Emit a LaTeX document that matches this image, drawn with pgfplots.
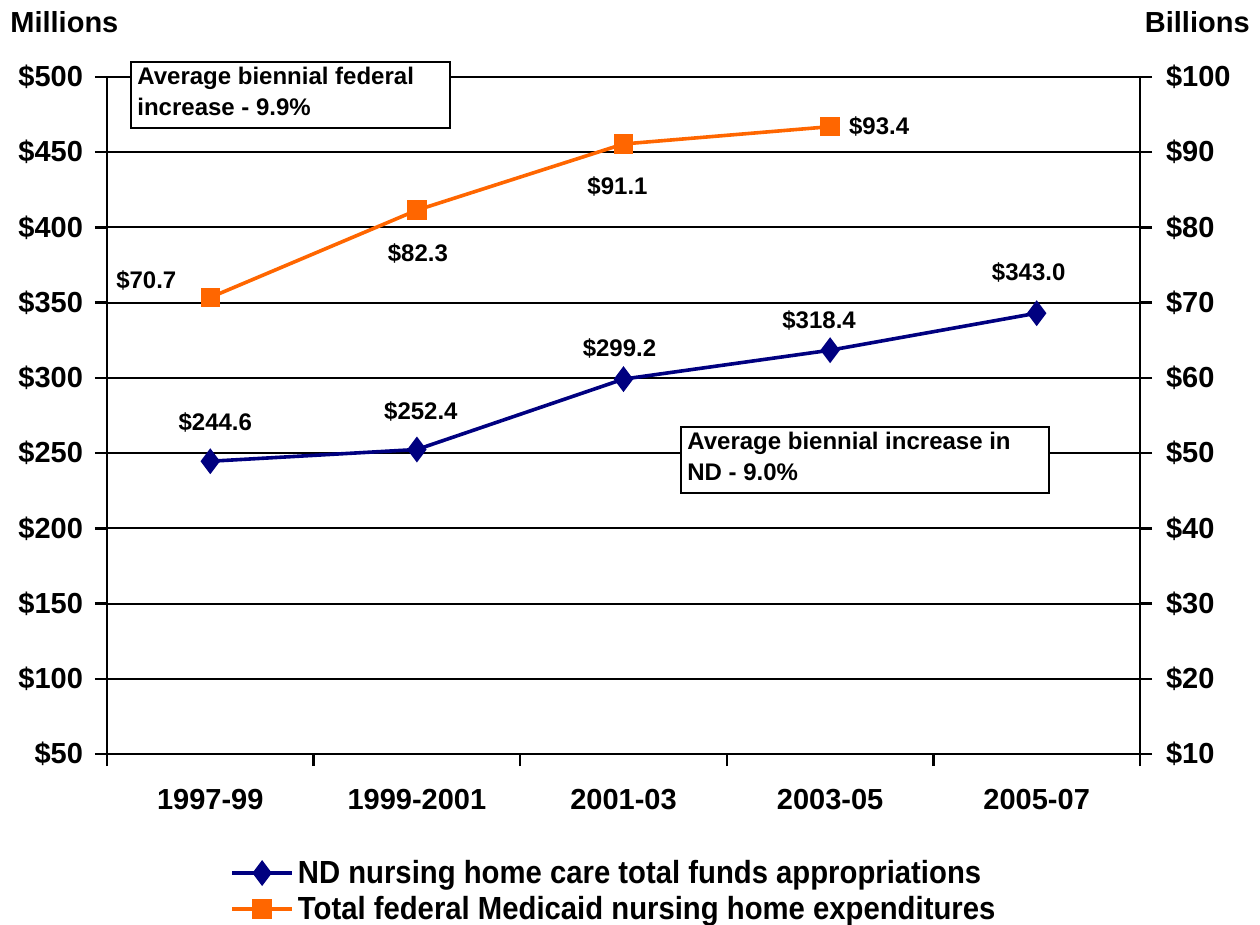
\documentclass[border=0pt]{standalone}
\usepackage{pgfplots}
\pgfplotsset{compat=1.18}
\usetikzlibrary{calc}
\usepackage{fontspec}
\setmainfont{Liberation Sans}
\definecolor{navy}{HTML}{000080}
\definecolor{orng}{HTML}{FF6600}
\newcommand{\tickfont}{\bfseries\fontsize{14.5}{17}\selectfont}
\newcommand{\lblfont}{\bfseries\fontsize{12}{15.5}\selectfont}
\begin{document}
\begin{tikzpicture}[x=1pt,y=1pt]
\begin{axis}[
  at={(53.5pt,-377pt)}, anchor=south west,
  width=516.5pt, height=338.5pt, scale only axis,
  xmin=-0.5, xmax=4.5, ymin=50, ymax=500,
  axis x line*=bottom, axis y line*=left,
  axis line style={-, line width=1.2pt},
  xtick={0,...,4},
  xticklabels={1997-99,1999-2001,2001-03,2003-05,2005-07},
  minor xtick={-0.5,0.5,...,4.5},
  major x tick style={draw=none},
  tick align=outside, major tick length=6pt, minor tick length=6pt,
  tick style={black, line width=1.2pt},
  ytick={50,100,...,500},
  yticklabel={\$\pgfmathprintnumber{\tick}},
  /pgf/number format/assume math mode=true,
  ymajorgrids, grid style={black, line width=1pt},
  ticklabel style={font=\tickfont},
  xticklabel style={yshift=-8pt},
  yticklabel style={xshift=-2.5pt},
  clip=false,
  legend style={draw=none, at={(0.119,-0.15)}, anchor=north west,
    font=\bfseries\fontsize{16}{18}\selectfont, row sep=1pt, inner sep=0pt},
  legend cell align=left,
  legend image code/.code={\draw[mark repeat=2,mark phase=2] plot coordinates {(0pt,0pt)(15pt,0pt)(30pt,0pt)};},
]
\addplot[navy, line width=1.8pt, mark=diamond*, mark size=5pt, mark options={solid}]
  coordinates {(0,244.6)(1,252.4)(2,299.2)(3,318.4)(4,343.0)};
\addlegendentry{\scalebox{0.915}[1]{ND nursing home care total funds appropriations}}
\addlegendimage{orng, line width=1.8pt, mark=square*, mark size=4pt}
\addlegendentry{\scalebox{0.915}[1]{Total federal Medicaid nursing home expenditures}}
\node[font=\lblfont] at ($(axis cs:0,244.6)+(2.5pt,19.5pt)$) {\$244.6};
\node[font=\lblfont] at ($(axis cs:1,252.4)+(2pt,19pt)$) {\$252.4};
\node[font=\lblfont] at ($(axis cs:2,299.2)+(-2pt,15.5pt)$) {\$299.2};
\node[font=\lblfont] at ($(axis cs:3,318.4)+(-5.5pt,15pt)$) {\$318.4};
\node[font=\lblfont] at ($(axis cs:4,343.0)+(-4pt,20.5pt)$) {\$343.0};
\end{axis}
\begin{axis}[
  at={(53.5pt,-377pt)}, anchor=south west,
  width=516.5pt, height=338.5pt, scale only axis,
  xmin=-0.5, xmax=4.5, ymin=10, ymax=100,
  axis x line=none, axis y line*=right,
  axis line style={-, line width=1.2pt},
  tick align=outside, major tick length=6pt,
  tick style={black, line width=1.2pt},
  ytick={10,20,...,100},
  yticklabel={\$\pgfmathprintnumber{\tick}},
  /pgf/number format/assume math mode=true,
  ticklabel style={font=\tickfont},
  yticklabel style={xshift=3.5pt},
  clip=false,
]
\addplot[orng, line width=1.8pt, mark=square*, mark size=4pt, mark options={solid}]
  coordinates {(0,70.7)(1,82.3)(2,91.1)(3,93.4)};
\node[font=\lblfont] at ($(axis cs:0,70.7)+(-32pt,8.5pt)$) {\$70.7};
\node[font=\lblfont] at ($(axis cs:1,82.3)+(0.5pt,-21.5pt)$) {\$82.3};
\node[font=\lblfont] at ($(axis cs:2,91.1)+(-3pt,-21.5pt)$) {\$91.1};
\node[font=\lblfont] at ($(axis cs:3,93.4)+(24.5pt,0pt)$) {\$93.4};
\end{axis}
\node[anchor=west, inner sep=0pt, font=\tickfont] at (5pt,-11pt) {Millions};
\node[anchor=east, inner sep=0pt, font=\tickfont] at (625pt,-11pt) {Billions};
\draw[black, line width=0.8pt, fill=white] (65.5,-31) rectangle (225,-64);
\node[anchor=north west, inner sep=0pt, align=left, font=\bfseries\fontsize{12}{15.5}\selectfont] at (68.5,-33.5) {Average biennial federal\\increase - 9.9\%};
\draw[black, line width=0.8pt, fill=white] (340.5,-213.5) rectangle (524.5,-246.5);
\node[anchor=north west, inner sep=0pt, align=left, font=\bfseries\fontsize{12}{15.5}\selectfont] at (343.5,-216) {Average biennial increase in\\ND - 9.0\%};
\pgfresetboundingbox
\useasboundingbox (0,0) rectangle (630,-462.5);
\end{tikzpicture}
\end{document}
